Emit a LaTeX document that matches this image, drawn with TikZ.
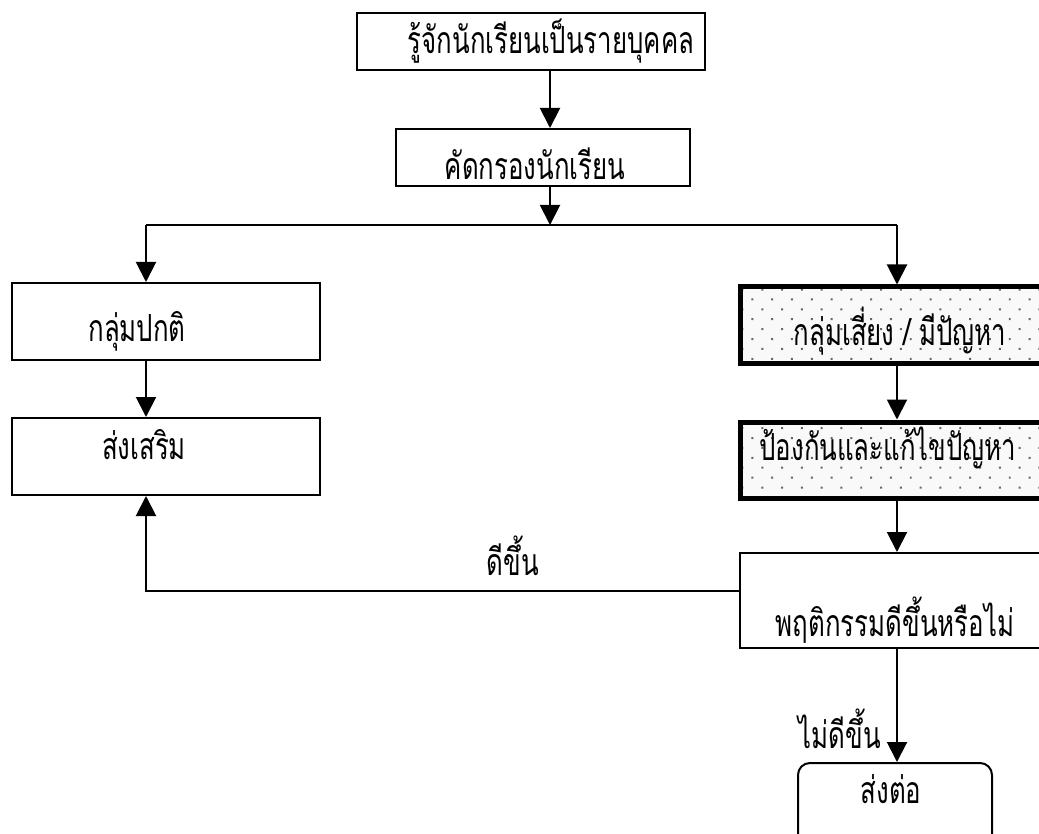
\documentclass[tikz,border=0pt]{standalone}
\usepackage{fontspec}
\newfontfamily\thaifont[Script=Thai,FakeStretch=0.69]{Loma}
\usetikzlibrary{arrows.meta,patterns.meta}

\begin{document}
\begin{tikzpicture}[x=0.5pt,y=-0.5pt,line width=1pt,
    >={Triangle[length=10pt,width=10pt]},
    box/.style={draw,rectangle,inner sep=0pt},
    risky/.style={box,line width=2.5pt,preaction={fill=gray!5},
        pattern={Dots[distance=7pt,angle=45,radius=0.7pt]},pattern color=black!60},
    txt/.style={font=\thaifont\fontsize{18.7}{22}\selectfont}]

        \clip (0,0) rectangle (1039,834);

        \node[box,minimum width=174pt,minimum height=28.5pt,
            label={[txt,xshift=10pt]center:รู้จักนักเรียนเป็นรายบุคคล}] (know) at (531,41.5) {};
        \node[box,minimum width=147pt,minimum height=28.5pt,
            label={[txt,xshift=-4pt,yshift=-3pt]center:คัดกรองนักเรียน}] (screen) at (543,157.5) {};
        \node[box,minimum width=154pt,minimum height=38.5pt,
            label={[txt,xshift=-14.5pt,yshift=-5pt]center:กลุ่มปกติ}] (normal) at (166,321.5) {};
        \node[box,minimum width=154pt,minimum height=38.5pt,
            label={[txt,xshift=-11pt,yshift=6pt]center:ส่งเสริม}] (promote) at (166,456.5) {};
        \node[risky,minimum width=155pt,minimum height=38pt,
            label={[txt,xshift=2.5pt,yshift=-3pt]center:กลุ่มเสี่ยง / มีปัญหา}] (risk) at (895,325) {};
        \node[risky,minimum width=155pt,minimum height=38pt,
            label={[txt,xshift=-3.5pt,yshift=6pt]center:ป้องกันและแก้ไขปัญหา}] (prevent) at (895,460) {};
        \node[box,minimum width=155pt,minimum height=47.5pt,
            label={[txt,yshift=-10pt]center:พฤติกรรมดีขึ้นหรือไม่}] (behav) at (895,600.5) {};
        \node[box,rounded corners=6pt,minimum width=97pt,minimum height=48.5pt,
            label={[txt,xshift=-2pt,yshift=11pt]center:ส่งต่อ}] (refer) at (895,811.5) {};

        \node[txt] (better) at (513,556) {ดีขึ้น};
        \node[txt] (notbetter) at (840,729) {ไม่ดีขึ้น};

        \coordinate (split) at (550,225);
        \coordinate (lcol) at (146,225);
        \coordinate (rcol) at (897,225);

        \draw[->] (know.south -| split) -- (screen.north -| split);
        \draw[->] (screen.south -| split) -- (split);
        \draw (lcol) -- (rcol);
        \draw[->] (lcol) -- (normal.north -| lcol);
        \draw[->] (rcol) -- (risk.north -| rcol);
        \draw[->] (normal.south -| lcol) -- (promote.north -| lcol);
        \draw[->] (risk.south -| rcol) -- (prevent.north -| rcol);
        \draw[->] (prevent.south -| rcol) -- (behav.north -| rcol);
        \draw[->] ([yshift=4.75pt]behav.west) -| (promote.south -| lcol);
        \draw[->] (behav.south -| rcol) -- (refer.north -| rcol);

    \end{tikzpicture}
\end{document}
